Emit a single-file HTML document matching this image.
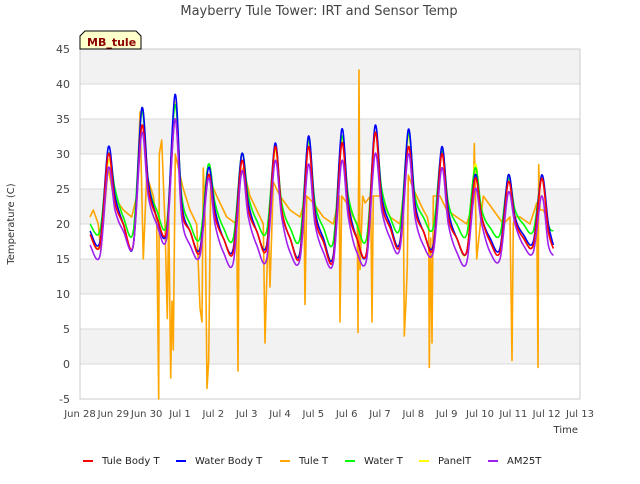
<!DOCTYPE html>
<html><head><meta charset="utf-8"><style>
body{margin:0;background:#fff;width:640px;height:480px;overflow:hidden;font-family:"DejaVu Sans","Liberation Sans",sans-serif}
svg text{font-family:"DejaVu Sans","Liberation Sans",sans-serif}
</style></head><body>
<svg id="chart" width="640" height="480">
<text x="319" y="15" text-anchor="middle" font-size="13" fill="#444">Mayberry Tule Tower: IRT and Sensor Temp</text>
<g id="bands"></g><g id="grid"></g>
<rect x="80" y="49" width="500" height="350" fill="none" stroke="#ccc"/>
<g id="yticks"></g><g id="xticks"></g>
<g id="series"></g>
<text x="14" y="224" transform="rotate(-90 14 224)" text-anchor="middle" font-size="10" fill="#333">Temperature (C)</text>
<text x="578" y="433" text-anchor="end" font-size="10" fill="#333">Time</text>
<g>
<path d="M80,49 L80,36 L85,31 L136,31 L141,36 L141,49 Z" fill="#ffffcc" stroke="#000" stroke-width="1"/>
<text x="87" y="46" font-size="11" font-weight="bold" fill="#8b0000">MB_tule</text>
</g>
<g id="legend"></g>
</svg>
<script>
const yTicks=[-5,0,5,10,15,20,25,30,35,40,45];
const xTickLabels=["Jun 28","Jun 29","Jun 30","Jul 1","Jul 2","Jul 3","Jul 4","Jul 5","Jul 6","Jul 7","Jul 8","Jul 9","Jul 10","Jul 11","Jul 12","Jul 13"];
const seriesNames=["Tule Body T","Water Body T","Tule T","Water T","PanelT","AM25T"];
const seriesColors=["#ff0000","#0000ff","#ffa500","#00ff00","#ffff00","#a020f0"];
const times=[0.3,0.6,0.85,1.05,1.3,1.6,1.85,2.05,2.3,2.6,2.85,3.05,3.3,3.6,3.85,4.05,4.3,4.6,4.85,5.05,5.3,5.6,5.85,6.05,6.3,6.6,6.85,7.05,7.3,7.6,7.85,8.05,8.3,8.6,8.85,9.05,9.3,9.6,9.85,10.05,10.3,10.6,10.85,11.05,11.3,11.6,11.85,12.05,12.3,12.6,12.85,13.05,13.3,13.6,13.85,14.05,14.2];
const tuleBodyT=[18.5,17,30,23,20,17,34,25,21,19,35,22,19,16,27,21,18,16,29,22,19,16.5,31,22,18,15.5,31,21,17.5,15,31.5,22,18,16,33,23,19.5,17,31,22,19,16.5,30,21,18,16,26.5,21,17.5,16,26,20.5,18,17,26.5,19,16.5];
const waterBodyT=[19,17.5,31,24,20,17,36.5,26,21,19,38.5,23,19,16.5,28,22,18,16.5,30,23,19,17,31.5,22,18,16,32.5,22,18,15.5,33.5,23,18,16,34,24,20,17.5,33.5,23,19,17,31,22,18,16,27,21,18,16.5,27,21,18.5,17.5,27,20,17];
const waterT=[20,19,30,25,21,19,36,26,22,20,37,24,20,18,28.5,23,19.5,18,30,24,20.5,19,31,23,19.5,18,32,23,19.5,17.5,32.5,24,20,18,33,25,21,19.5,33,24,21,19.5,30.5,23,20,18.5,28,22,19.5,18.5,26.5,22,20,19,26.5,20,19];
const panelT=[19,17,29,24,20,17,36.5,26,21,19,37.5,23,19,16.5,27,22,18,16.5,30,23,19,17,30.5,22,18,16,31.5,22,18,15.5,32,23,18,16,33,24,20,17.5,32.5,23,19,17,30.5,22,18,16,28.5,21,18,16.5,27,21,18.5,17,27,19,17];
const am25T=[17,15.5,28,22,19,17,33,24,20,18,35,21,17,15.5,26.5,20,16,14.5,27.5,21,17,15,29,21,16,15,28.5,20,16,14.5,29,21,16,15,30,22,18,16.5,30,21,17,16,28,20,16,14.5,25,20,16,15,24.5,20,17,16,24,17,15.5];
const tuleTimes=[0.3,0.4,0.55,0.62,0.75,0.85,1.0,1.3,1.55,1.7,1.78,1.8,1.9,2.0,2.2,2.3,2.36,2.38,2.45,2.55,2.62,2.66,2.72,2.76,2.8,2.86,2.95,3.1,3.3,3.5,3.6,3.66,3.7,3.76,3.81,3.86,3.92,4.1,4.4,4.7,4.74,4.78,4.9,5.1,5.4,5.5,5.55,5.65,5.7,5.8,6.0,6.3,6.6,6.72,6.75,6.8,7.0,7.3,7.6,7.78,7.8,7.85,8.0,8.2,8.32,8.34,8.37,8.4,8.48,8.55,8.72,8.76,8.8,9.0,9.3,9.6,9.7,9.73,9.78,9.82,9.85,10.0,10.3,10.42,10.46,10.48,10.52,10.56,10.6,10.8,11.0,11.3,11.6,11.8,11.83,11.9,12.1,12.4,12.7,12.9,12.96,13.0,13.05,13.2,13.5,13.7,13.74,13.76,13.8,13.9,14.0,14.2];
const tuleT=[21,22,20,16,23,28,24,22,21,24,33,36,15,27,24,20,-5,30,32,20,6.5,22,-2,9,2,30,28,25,22,20,8,6,28,20,-3.5,0.5,26,24,21,20,-1,26,28,24,21,20,3,20,11,26,24,22,21,23,8.5,24,23,21,20,24,6,24,23,21,20,4.5,42,13.5,24,23,24,6,24,24,21,20,24,4,9,14,27,25,22,21,20,-0.5,18,3,24,24,22,21,20,23,31.5,15,24,22,20,21,0.5,20,21,21,20,23,-0.5,28.5,22,22,21];
const seriesData=[[times,tuleBodyT],[times,waterBodyT],[tuleTimes,tuleT],[times,waterT],[times,panelT],[times,am25T]];
const drawOrder=[2,4,3,1,0,5];

const X0=80,X1=580,Y0=399,Y1=49;
const xS=t=>X0+t*(X1-X0)/15;
const yS=v=>Y0-(v+5)*(Y0-Y1)/50;
const NS="http://www.w3.org/2000/svg";
function mk(tag,attrs,parent){const e=document.createElementNS(NS,tag);for(const k in attrs)e.setAttribute(k,attrs[k]);parent.appendChild(e);return e;}
const bands=document.getElementById('bands'),grid=document.getElementById('grid'),yt=document.getElementById('yticks'),xt=document.getElementById('xticks'),sg=document.getElementById('series'),lg=document.getElementById('legend');
for(let i=0;i<yTicks.length-1;i++){
  if(i%2===1){const r=mk('rect',{x:X0,y:yS(yTicks[i+1]),width:X1-X0,height:yS(yTicks[i])-yS(yTicks[i+1]),fill:'#f2f2f2'},bands);
  
  }
}
yTicks.forEach(v=>{
  const l=mk('line',{x1:X0,x2:X1,y1:yS(v),y2:yS(v),stroke:'#d9d9d9'},grid);
  
  
  const t=mk('text',{x:X0-10,y:yS(v)+4,'text-anchor':'end','font-size':'11',fill:'#444'},yt);
  t.textContent=v;
  
  
});
xTickLabels.forEach((s,i)=>{
  const t=mk('text',{x:xS(i),y:417,'text-anchor':'middle','font-size':'10',fill:'#444'},xt);
  t.textContent=s;
  
  
});
function smoothPath(pts){
  let d='M'+pts[0][0].toFixed(1)+','+pts[0][1].toFixed(1);
  for(let i=0;i<pts.length-1;i++){
    const p0=pts[Math.max(0,i-1)],p1=pts[i],p2=pts[i+1],p3=pts[Math.min(pts.length-1,i+2)];
    const c1x=p1[0]+(p2[0]-p0[0])/6,c1y=p1[1]+(p2[1]-p0[1])/6;
    const c2x=p2[0]-(p3[0]-p1[0])/6,c2y=p2[1]-(p3[1]-p1[1])/6;
    d+=' C'+c1x.toFixed(1)+','+c1y.toFixed(1)+' '+c2x.toFixed(1)+','+c2y.toFixed(1)+' '+p2[0].toFixed(1)+','+p2[1].toFixed(1);
  }
  return d;
}
drawOrder.forEach(si=>{
  const [ts,vs]=seriesData[si];
  const pts=ts.map((t,i)=>[xS(t),yS(vs[i])]);
  const d=si===2?pts.map((p,i)=>(i?'L':'M')+p[0].toFixed(1)+','+p[1].toFixed(1)).join(' '):smoothPath(pts);
  const p=mk('path',{d:d,fill:'none',stroke:seriesColors[si],'stroke-width':'1.6','stroke-linejoin':'round'},sg);
  
  
});
const legX=[83,176,280,345,419,488];
seriesNames.forEach((n,i)=>{
  const g=mk('g',{},lg);
  
  
  mk('line',{x1:legX[i],x2:legX[i]+10,y1:461,y2:461,stroke:seriesColors[i],'stroke-width':'2'},g);
  const t=mk('text',{x:legX[i]+19,y:464,'font-size':'10',fill:'#222'},g);
  t.textContent=n;
});
</script>
</body></html>
